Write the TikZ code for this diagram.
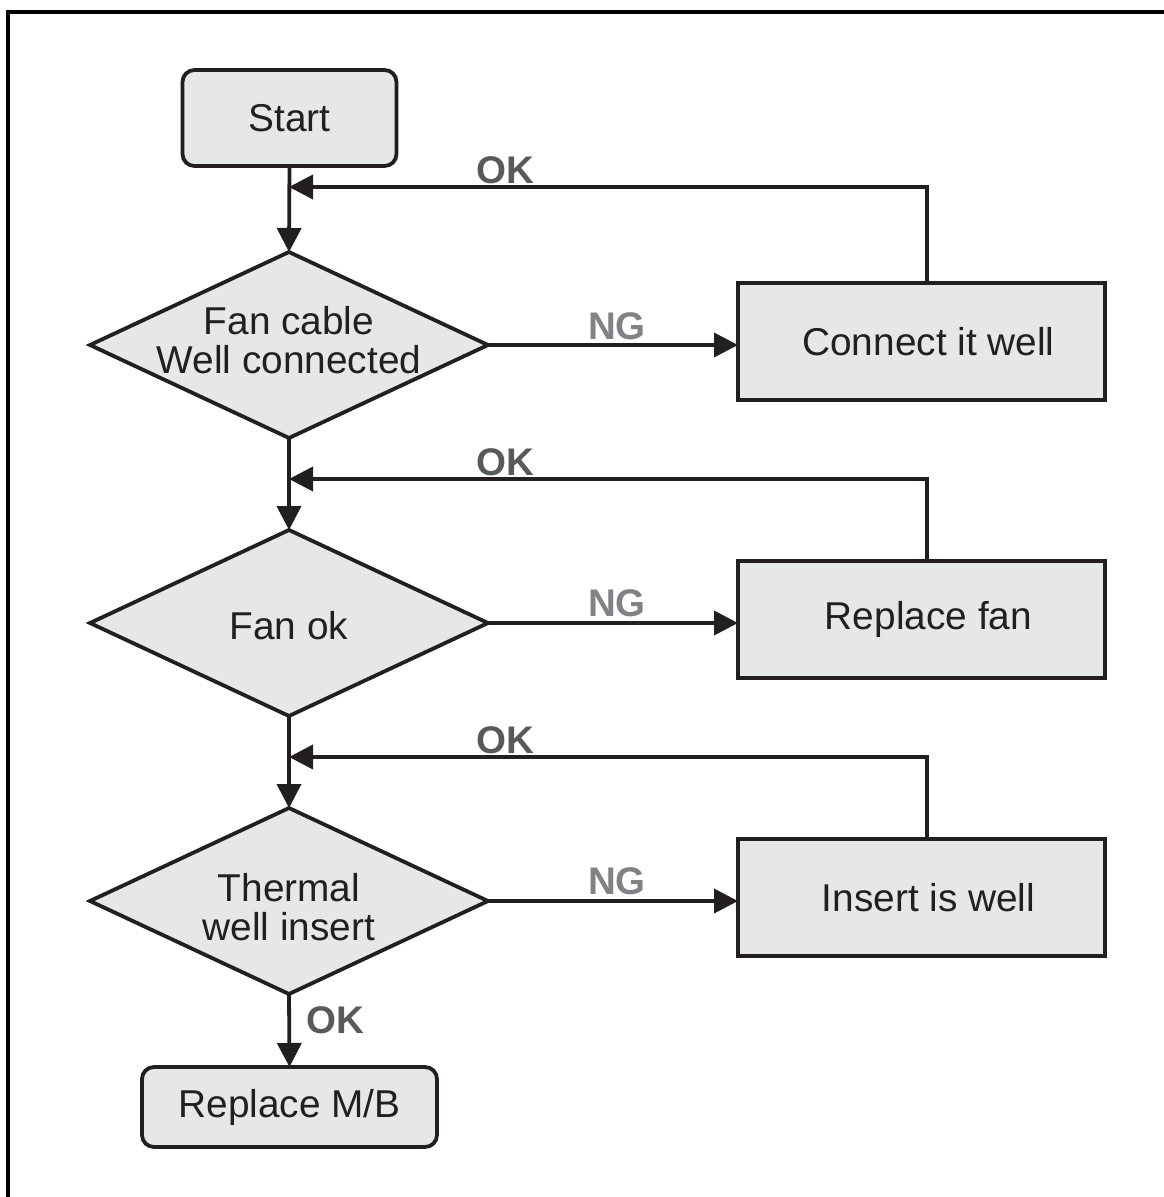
\documentclass[tikz,border=0pt]{standalone}
\usepackage{fontspec}
\setmainfont{Liberation Sans}
\usetikzlibrary{shapes.geometric,arrows.meta,calc}
\definecolor{boxfill}{HTML}{E6E7E8}
\definecolor{ink}{HTML}{231F20}
\definecolor{okgray}{HTML}{58595B}
\definecolor{nggray}{HTML}{808285}
\begin{document}
\begin{tikzpicture}[x=1pt,y=-1pt,
  every node/.style={outer sep=0pt},
  txt/.style={font=\fontsize{38.8}{39}\selectfont, text=ink, align=center},
  rbox/.style={draw=ink, line width=3.8pt, fill=boxfill, rounded corners=12pt, inner sep=0pt, txt},
  pbox/.style={draw=ink, line width=3.8pt, fill=boxfill, inner sep=0pt, txt},
  dia/.style={diamond, draw=ink, line width=3.8pt, fill=boxfill, inner sep=0pt, minimum width=398pt, minimum height=186pt},
  oklab/.style={font=\fontsize{38.5}{40}\bfseries\selectfont, text=okgray, inner sep=0pt},
  nglab/.style={font=\fontsize{38.5}{40}\bfseries\selectfont, text=nggray, inner sep=0pt},
  arr/.style={draw=ink, line width=3.8pt, -{Triangle[length=24pt,width=24pt]}},
  ln/.style={draw=ink, line width=3.8pt}
]
\useasboundingbox (0,0) rectangle (1164,1197);
% frame (only top and left edges are visible)
\draw[black, line width=4pt] (8,1230) -- (8,12) -- (1200,12);

% nodes
\node[rbox, minimum width=214pt, minimum height=96pt] (start) at (289.5,118) {Start};

\node[dia] (d1) at (289,345) {};
\node[txt] (d1t) at (289,340) {Fan cable\\Well connected};
\node[pbox, minimum width=367pt, minimum height=117pt] (b1) at (921.5,341.5) {\hspace*{14pt}Connect it well};

\node[dia] (d2) at (289,623) {};
\node[txt] (d2t) at (289,626) {Fan ok};
\node[pbox, minimum width=367pt, minimum height=117pt] (b2) at (921.5,619.5) {\hspace*{14pt}Replace fan};

\node[dia] (d3) at (289,901) {};
\node[txt] (d3t) at (289,907) {Thermal\\well insert};
\node[pbox, minimum width=367pt, minimum height=117pt] (b3) at (921.5,897.5) {\hspace*{14pt}Insert is well};

\node[rbox, minimum width=295pt, minimum height=80pt] (end) at (289.5,1107) {Replace M/B};

% merge points
\coordinate (m1) at (289,187);
\coordinate (m2) at (289,479);
\coordinate (m3) at (289,757);

% vertical flow
\draw[arr] (start.south) -- (d1.north);
\draw[arr] (d1.south) -- (d2.north);
\draw[arr] (d2.south) -- (d3.north);
\draw[arr] (d3.south) -- (end.north);

% NG arrows
\draw[arr] (d1.east) -- (d1.east -| b1.west);
\draw[arr] (d2.east) -- (d2.east -| b2.west);
\draw[arr] (d3.east) -- (d3.east -| b3.west);

% OK returns
\draw[arr] ([xshift=5.5pt]b1.north) |- (m1);
\draw[arr] ([xshift=5.5pt]b2.north) |- (m2);
\draw[arr] ([xshift=5.5pt]b3.north) |- (m3);

% labels
\node[oklab] (ok1) at (505,170) {OK};
\node[nglab] (ng1) at (617,326) {NG};
\node[oklab] (ok2) at (505,462) {OK};
\node[nglab] (ng2) at (617,603) {NG};
\node[oklab] (ok3) at (505,740) {OK};
\node[nglab] (ng3) at (617,881) {NG};
\node[oklab] (ok4) at (335,1020) {OK};
\end{tikzpicture}
\end{document}
